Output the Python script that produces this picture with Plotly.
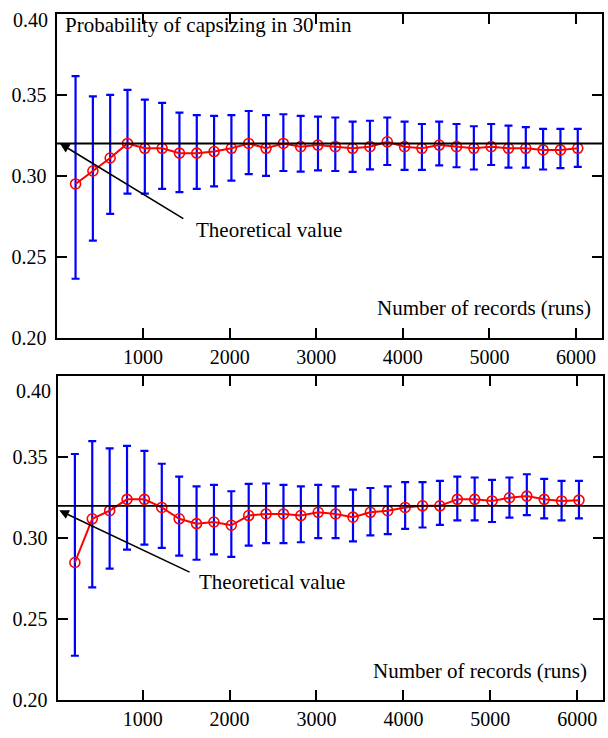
import plotly.graph_objects as go

# ---------------- data ----------------
runs = [220, 420, 620, 820, 1020, 1220, 1420, 1620, 1820, 2020,
        2220, 2420, 2620, 2820, 3020, 3220, 3420, 3620, 3820, 4020,
        4220, 4420, 4620, 4820, 5020, 5220, 5420, 5620, 5820, 6020]

theoretical = 0.32

p_top = [0.295, 0.303, 0.311, 0.320, 0.317, 0.317, 0.314, 0.314, 0.315, 0.317,
         0.320, 0.317, 0.320, 0.318, 0.319, 0.318, 0.317, 0.318, 0.321, 0.318,
         0.317, 0.319, 0.318, 0.317, 0.318, 0.317, 0.317, 0.316, 0.316, 0.317]
hi_top = [0.3615, 0.349, 0.350, 0.353, 0.347, 0.345, 0.339, 0.3375, 0.337, 0.3375,
          0.340, 0.3375, 0.338, 0.337, 0.3365, 0.336, 0.3335, 0.334, 0.336, 0.3335,
          0.332, 0.3335, 0.332, 0.3306, 0.332, 0.331, 0.330, 0.329, 0.329, 0.329]
lo_top = [0.2365, 0.260, 0.2765, 0.289, 0.289, 0.292, 0.290, 0.292, 0.2935, 0.297,
          0.301, 0.300, 0.303, 0.3026, 0.3034, 0.303, 0.3024, 0.304, 0.3067, 0.3037,
          0.3037, 0.3065, 0.3053, 0.3039, 0.3067, 0.3051, 0.3051, 0.3039, 0.3047, 0.3055]

p_bot = [0.285, 0.312, 0.317, 0.324, 0.324, 0.319, 0.312, 0.309, 0.310, 0.308,
         0.314, 0.315, 0.315, 0.314, 0.316, 0.315, 0.313, 0.316, 0.317, 0.319,
         0.320, 0.320, 0.324, 0.324, 0.323, 0.325, 0.326, 0.324, 0.323, 0.3235]
hi_bot = [0.352, 0.360, 0.3555, 0.357, 0.354, 0.346, 0.338, 0.332, 0.333, 0.329,
          0.3336, 0.3338, 0.333, 0.332, 0.333, 0.332, 0.330, 0.331, 0.332, 0.3346,
          0.3346, 0.3354, 0.338, 0.3375, 0.336, 0.3375, 0.3395, 0.3367, 0.3354, 0.3354]
lo_bot = [0.2274, 0.2696, 0.2812, 0.293, 0.296, 0.294, 0.2893, 0.2867, 0.290, 0.2885,
          0.2954, 0.297, 0.297, 0.2975, 0.300, 0.300, 0.298, 0.3017, 0.3025, 0.3058,
          0.3066, 0.3082, 0.311, 0.311, 0.310, 0.3127, 0.3143, 0.3123, 0.311, 0.3123]

y_ticks = [0.20, 0.25, 0.30, 0.35, 0.40]
y_ticktext = ["0.20", "0.25", "0.30", "0.35", ""]
x_ticks = [1000, 2000, 3000, 4000, 5000, 6000]

title_text = "Probability of capsizing in 30 min"
xlabel_text = "Number of records (runs)"
theory_text = "Theoretical value"

# ---------------- figure ----------------
FONT = "Liberation Serif, Times New Roman, serif"
RED = "#ff0000"
BLUE = "#0000ff"

fig = go.Figure()


def add_series(p, hi, lo, xa, ya):
    plus = [h - v for h, v in zip(hi, p)]
    minus = [v - l for v, l in zip(p, lo)]
    fig.add_trace(go.Scatter(
        x=runs, y=p, xaxis=xa, yaxis=ya, mode="lines+markers",
        line=dict(color=RED, width=2),
        marker=dict(symbol="circle-open", size=10, color=RED, line=dict(width=1.6, color=RED)),
        error_y=dict(type="data", symmetric=False, array=plus, arrayminus=minus,
                     color=BLUE, thickness=2.2, width=4),
        showlegend=False, hoverinfo="x+y"))


add_series(p_top, hi_top, lo_top, "x", "y")
add_series(p_bot, hi_bot, lo_bot, "x2", "y2")

W, H = 608, 738


def fx(px):
    return px / W


def fy(py):
    return 1 - py / H


top_box = dict(l=56.5, r=602, t=14, b=343)
bot_box = dict(l=57.5, r=603.3, t=382, b=710.7)


def dom(box):
    return ([fx(box["l"]), fx(box["r"])], [fy(box["b"]), fy(box["t"])])


ax_common = dict(showgrid=False, zeroline=False, showline=True, linecolor="black",
                 linewidth=2, mirror="ticks", ticks="inside", ticklen=10, tickwidth=2,
                 tickcolor="black", tickfont=dict(family=FONT, size=20, color="black"))

tx, ty = dom(top_box)
bx, by = dom(bot_box)

fig.update_layout(
    width=W, height=H,
    margin=dict(l=0, r=0, t=0, b=0),
    paper_bgcolor="white", plot_bgcolor="white",
    xaxis=dict(domain=tx, range=[0, 6300], tickvals=x_ticks, anchor="y", **ax_common),
    yaxis=dict(domain=ty, range=[0.20, 0.40], tickvals=y_ticks, ticktext=y_ticktext,
               anchor="x", ticklabelstandoff=4, **ax_common),
    xaxis2=dict(domain=bx, range=[20, 6300], tickvals=x_ticks, anchor="y2", **ax_common),
    yaxis2=dict(domain=by, range=[0.20, 0.40], tickvals=y_ticks, ticktext=y_ticktext,
                anchor="x2", ticklabelstandoff=4, **ax_common),
)

# theoretical lines
fig.add_shape(type="line", xref="x domain", yref="y", x0=0, x1=1,
              y0=theoretical, y1=theoretical, line=dict(color="black", width=2))
fig.add_shape(type="line", xref="x2 domain", yref="y2", x0=0, x1=1,
              y0=theoretical, y1=theoretical, line=dict(color="black", width=1.8))

afont = dict(family=FONT, size=21, color="black")
ann = []
# panel texts
ann.append(dict(xref="x", yref="y", x=80, y=0.3933, text=title_text, showarrow=False,
                xanchor="left", yanchor="middle", font=afont))
ann.append(dict(xref="x2", yref="y2", x=5, y=0.389, text=title_text, showarrow=False,
                xanchor="left", yanchor="middle", font=afont))
ann.append(dict(xref="x", yref="y", x=6200, y=0.2182, text=xlabel_text, showarrow=False,
                xanchor="right", yanchor="middle", font=afont))
ann.append(dict(xref="x2", yref="y2", x=6140, y=0.2178, text=xlabel_text, showarrow=False,
                xanchor="right", yanchor="middle", font=afont))
# theoretical value labels
ann.append(dict(xref="x", yref="y", x=1590, y=0.2665, text=theory_text, showarrow=False,
                xanchor="left", yanchor="middle", font=afont))
ann.append(dict(xref="x2", yref="y2", x=1620, y=0.2727, text=theory_text, showarrow=False,
                xanchor="left", yanchor="middle", font=afont))
# arrows
ann.append(dict(xref="x", yref="y", x=40, y=theoretical, axref="x", ayref="y",
                ax=1482, ay=0.273, text="", showarrow=True, arrowhead=2, arrowsize=1.2,
                arrowwidth=1.6, arrowcolor="black"))
ann.append(dict(xref="x2", yref="y2", x=40, y=0.3172, axref="x2", ayref="y2",
                ax=1557, ay=0.2786, text="", showarrow=True, arrowhead=2, arrowsize=1.2,
                arrowwidth=1.6, arrowcolor="black"))
# 0.40 labels (drawn slightly below the top edge as in the original)
ann.append(dict(xref="paper", yref="paper", x=fx(50), y=fy(20), text="0.40",
                showarrow=False, xanchor="right", yanchor="middle",
                font=dict(family=FONT, size=20, color="black")))
ann.append(dict(xref="paper", yref="paper", x=fx(53), y=fy(397), text="0.40",
                showarrow=False, xanchor="right", yanchor="middle",
                font=dict(family=FONT, size=20, color="black")))
fig.update_layout(annotations=ann)

fig.write_html("out.html", config={"displayModeBar": False},
               post_script="document.body.style.margin='0';document.body.style.overflow='hidden';")
